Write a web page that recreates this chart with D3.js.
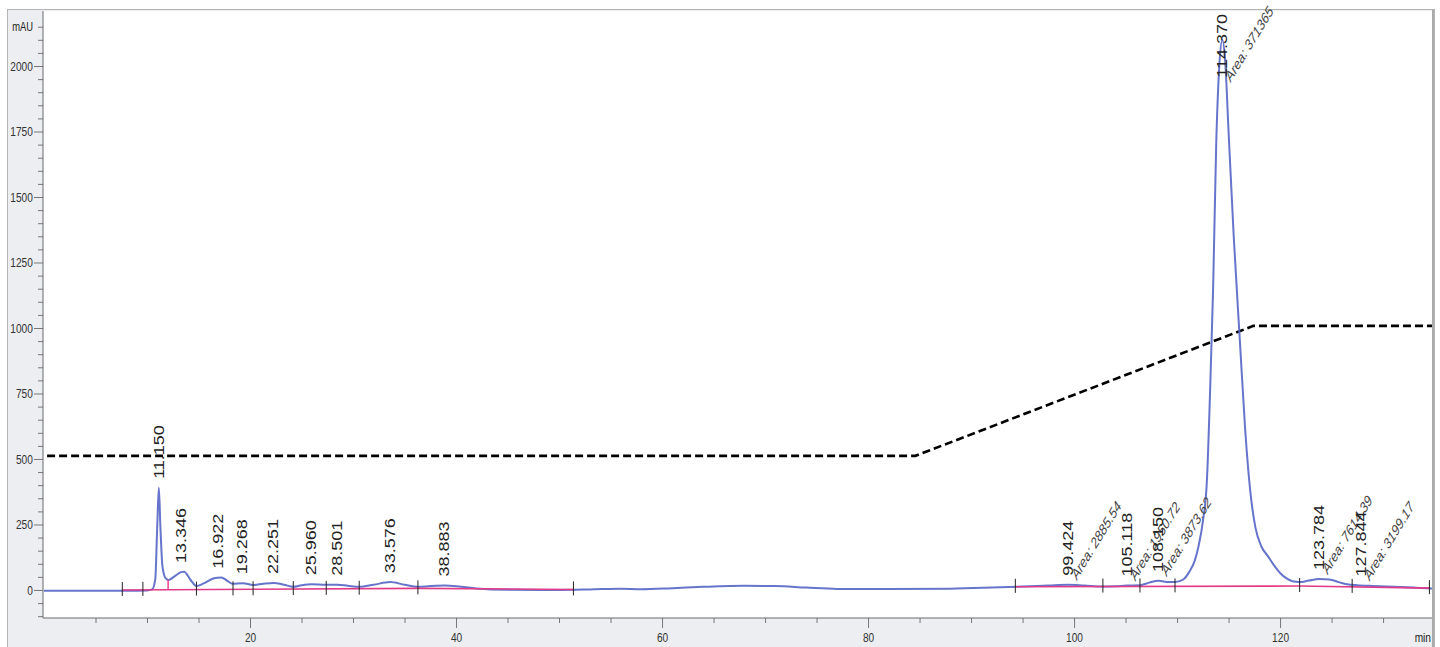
<html>
<script src='https://d3js.org/d3.v7.min.js'></script>
<style>
body {margin:0; background:#fff;}
text {font-family: "Liberation Sans", Arial, sans-serif;}
</style>
<body>
<svg width=1440 height=647></svg>
<script>
// detector trace (min, mAU)
var traceTime = [0, 5, 8, 10, 10.5, 10.8, 11.0, 11.15, 11.3, 11.5, 11.8, 12.1, 12.6, 13.3, 13.6, 14.2, 14.8,
  15.5, 16.5, 17.2, 17.8, 18.3, 19.3, 20.3, 21.3, 22.3, 23.3, 24.2, 25.0, 26.0, 27.3, 28.5, 29.5, 30.6,
  32.0, 33.6, 35.0, 36.3, 37.5, 38.9, 40.5, 42, 45, 50, 53, 56, 58, 61, 64, 68, 71, 74, 77, 82, 88, 92,
  95, 97.5, 99.4, 101, 102.8, 104, 105.1, 106.4, 107.3, 108.2, 109.2, 109.8, 110.6, 111.2, 111.7, 112.1,
  112.5, 112.9, 113.2, 113.5, 113.8, 114.1, 114.4, 114.7, 115.0, 115.5, 116.1, 116.6, 117.1, 117.6, 118.2,
  118.8, 119.4, 120.0, 120.6, 121.2, 121.9, 122.8, 123.8, 124.8, 125.7, 126.5, 127.5, 129, 131, 133, 134.75];
var traceValue = [-3, -3, -3, -2, 2, 40, 250, 390, 240, 90, 45, 38, 50, 68, 70, 40, 15,
  25, 45, 48, 35, 24, 26, 19, 24, 27, 20, 12, 18, 22, 20, 20, 16, 12,
  20, 30, 20, 12, 15, 17, 12, 6, 1, 0, 2, 5, 3, 7, 12, 16, 15, 9, 4, 4, 5, 9,
  13, 17, 20, 17, 13, 14, 17, 18, 28, 35, 30, 30, 40, 70, 110, 170,
  260, 420, 750, 1150, 1700, 2000, 2100, 2000, 1750, 1350, 950, 620, 380, 240, 165,
  130, 95, 65, 45, 33, 30, 36, 42, 40, 30, 22, 18, 15, 12, 9, 6];

// gradient (dashed)
var gradTime = [0.3, 84.6, 117.4, 134.75];
var gradValue = [512, 512, 1008, 1008];

// integration baseline (pink), null = not drawn
var baseTime = [7.6, 36.3, 51.4, 70, 94.3, 121.9, 134.5];
var baseValue = [0, 6, 2, null, 12, 15, 7];

// peak start/end marks
var markTimes = [7.6, 9.6, 14.8, 18.35, 20.3, 24.2, 27.4, 30.6, 36.3, 51.4, 94.3, 102.8, 106.4, 109.8, 121.9, 127.0, 134.5];
var pinkMarkTimes = [12.05];

// peak labels
var peakTimes = [11.150, 13.346, 16.922, 19.268, 22.251, 25.960, 28.501, 33.576, 38.883, 99.424, 105.118, 108.150, 114.370, 123.784, 127.844];
var peakLabels = ["11.150", "13.346", "16.922", "19.268", "22.251", "25.960", "28.501", "33.576", "38.883", "99.424", "105.118", "108.150", "114.370", "123.784", "127.844"];
var areaLabels = [null, null, null, null, null, null, null, null, null, "Area: 2885.54", "Area: 1950.72", "Area: 3873.62", "Area: 371365", "Area: 7614.39", "Area: 3199.17"];

// axes
var xMajor = [20, 40, 60, 80, 100, 120];
var xMinor = d3.range(5, 135, 5).filter(function(d) { return d % 20 != 0; });
var yMajor = [0, 250, 500, 750, 1000, 1250, 1500, 1750, 2000];
var yMinor = d3.range(-100, 2200, 50).filter(function(d) { return d % 250 != 0; });

var svg = d3.select("svg");
var x = d3.scaleLinear().domain([0, 134.75]).range([44, 1432]);
var y = d3.scaleLinear().domain([-107, 2210]).range([618, 11]);
var sq = "scale(0.78,1)";

// frame
svg.append("rect").attr("x", 7.5).attr("y", 9.5).attr("width", 1427).attr("height", 660)
   .attr("fill", "#eceef1").attr("stroke", "#b4b4b4");
svg.append("rect").attr("x", 43).attr("y", 11).attr("width", 1389).attr("height", 607).attr("fill", "#fff");
svg.append("line").attr("x1", 1433).attr("x2", 1433).attr("y1", 10).attr("y2", 647)
   .attr("stroke", "#aaa").attr("stroke-width", 2);

// y axis
var yMin = svg.append("g").attr("transform", "translate(43,0)")
   .call(d3.axisLeft(y).tickValues(yMinor).tickSize(5).tickFormat(""));
var ya = svg.append("g").attr("transform", "translate(43,0)")
   .call(d3.axisLeft(y).tickValues(yMajor).tickSize(9).tickFormat(d3.format("d")));
svg.selectAll(".domain").remove();
yMin.selectAll("line").attr("stroke", "#777");
ya.selectAll("line").attr("stroke", "#777");
ya.selectAll("text").attr("x", -13).attr("transform", sq)
  .style("font-size", "13px").attr("fill", "#333");
svg.append("text").attr("transform", "translate(33," + (y(2150) + 4) + ") " + sq)
   .attr("text-anchor", "end").style("font-size", "12px").attr("fill", "#222").text("mAU");
svg.append("line").attr("x1", 43).attr("x2", 43).attr("y1", 11).attr("y2", 618).attr("stroke", "#6b6b6b");

// x axis
var xMin = svg.append("g").attr("transform", "translate(0,618)")
   .call(d3.axisBottom(x).tickValues(xMinor).tickSize(5).tickFormat(""));
var xa = svg.append("g").attr("transform", "translate(0,618)")
   .call(d3.axisBottom(x).tickValues(xMajor).tickSize(10).tickPadding(5).tickFormat(d3.format("d")));
svg.selectAll(".domain").remove();
xMin.selectAll("line").attr("stroke", "#777");
xa.selectAll("line").attr("stroke", "#777");
xa.selectAll("text").attr("transform", sq).style("font-size", "13px").attr("fill", "#333");
svg.append("text").attr("transform", "translate(1431,642) " + sq)
   .attr("text-anchor", "end").style("font-size", "13px").attr("fill", "#222").text("min");
svg.append("line").attr("x1", 43).attr("x2", 1432).attr("y1", 618).attr("y2", 618).attr("stroke", "#6b6b6b");

// gradient line
var grad = gradTime.map(function(t, i) { return [t, gradValue[i]]; });
svg.append("path").datum(grad)
   .attr("d", d3.line().x(function(d) { return x(d[0]); }).y(function(d) { return y(d[1]); }))
   .attr("fill", "none").attr("stroke", "#000").attr("stroke-width", 2.6).attr("stroke-dasharray", "8,4");

// trace
var trace = traceTime.map(function(t, i) { return [t, traceValue[i]]; });
svg.append("path").datum(trace)
   .attr("d", d3.line().curve(d3.curveMonotoneX).x(function(d) { return x(d[0]); }).y(function(d) { return y(d[1]); }))
   .attr("fill", "none").attr("stroke", "#5565c5").attr("stroke-width", 2).attr("stroke-opacity", 0.9);

// baseline
var base = baseTime.map(function(t, i) { return [t, baseValue[i]]; });
svg.append("path").datum(base)
   .attr("d", d3.line().defined(function(d) { return d[1] != null; })
     .x(function(d) { return x(d[0]); }).y(function(d) { return y(d[1]); }))
   .attr("fill", "none").attr("stroke", "#e23c88").attr("stroke-width", 1.6);

var defBase = base.filter(function(d) { return d[1] != null; });
var baseAt = d3.scaleLinear().domain(defBase.map(function(d) { return d[0]; })).range(defBase.map(function(d) { return d[1]; }));
var traceAt = d3.scaleLinear().domain(traceTime).range(traceValue);

svg.append("g").selectAll("line").data(markTimes).enter().append("line")
   .attr("x1", function(d) { return x(d); }).attr("x2", function(d) { return x(d); })
   .attr("y1", function(d) { return y(baseAt(d)) - 8; }).attr("y2", function(d) { return y(baseAt(d)) + 6; })
   .attr("stroke", "#222").attr("stroke-width", 1);
svg.append("g").selectAll("line").data(pinkMarkTimes).enter().append("line")
   .attr("x1", function(d) { return x(d); }).attr("x2", function(d) { return x(d); })
   .attr("y1", function(d) { return y(baseAt(d)); }).attr("y2", function(d) { return y(traceAt(d)); })
   .attr("stroke", "#e23c88").attr("stroke-width", 1.4);

// peak labels
peakTimes.forEach(function(t, i) {
  var px = x(t);
  var bottom = y(traceAt(t)) - 9;
  var lbl = svg.append("text").style("font-size", "18px").attr("fill", "#222")
     .attr("dy", "0.35em").text(peakLabels[i]);
  var len = lbl.node().getComputedTextLength();
  bottom = Math.max(bottom, 14 + len);
  lbl.attr("transform", "translate(" + px + "," + bottom + ") " + sq + " rotate(-90)");
  if (areaLabels[i]) {
    svg.append("text").style("font-size", "15px").style("font-style", "italic")
       .attr("fill", "#444").attr("dy", "0.3em")
       .attr("transform", "translate(" + (px + 6) + "," + (bottom + 2) + ") " + sq + " rotate(-52)")
       .text(areaLabels[i]);
  }
});
</script>
</body>
</html>
